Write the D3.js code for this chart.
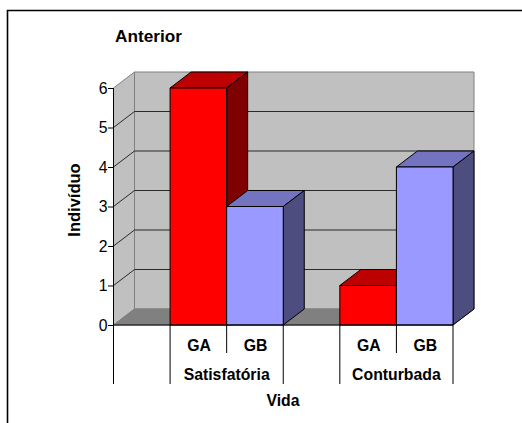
<!DOCTYPE html>
<html><head><meta charset="utf-8">
<script src="https://cdn.jsdelivr.net/npm/d3@7"></script>
<style>html,body{margin:0;padding:0;background:#fff;overflow:hidden}svg{display:block}text{font-family:"Liberation Sans",Arial,sans-serif;fill:#000}</style>
</head><body><script>
const categories = ["", "GA", "GB", "", "GA", "GB"];
const values = [null, 6, 3, null, 1, 4];
const groupLabels = ["Satisfatória", "Conturbada"];
const yTicks = [0, 1, 2, 3, 4, 5, 6];
const title = "Anterior", yTitle = "Indivíduo", xTitle = "Vida";
const faceColors = {GA: ["#ff0000", "#bd0000", "#7f0000"], GB: ["#9999ff", "#7373bf", "#4d4d80"]};
const W = 522, H = 423, DX = 21, DY = -16;
const svg = d3.select("body").append("svg").attr("width", W).attr("height", H);
const x = d3.scaleBand().domain(d3.range(categories.length)).range([113.5, 453]);
const y = d3.scaleLinear().domain([0, 6]).range([325, 88]);
const pts = a => a.map(p => p.join(",")).join(" ");

svg.append("path").attr("d", `M7.5,${H}V10.5H${W}`).attr("fill", "none").attr("stroke", "#000").attr("stroke-width", 1.6);

const x0 = x.range()[0], x1 = x.range()[1];
const yb = y(0), yt = y(6);
// walls
svg.append("polygon").attr("points", pts([[x0, yb], [x0 + DX, yb + DY], [x0 + DX, yt + DY], [x0, yt]])).attr("fill", "#c0c0c0").attr("stroke", "#808080");
svg.append("polygon").attr("points", pts([[x0 + DX, yb + DY], [x1 + DX, yb + DY], [x1 + DX, yt + DY], [x0 + DX, yt + DY]])).attr("fill", "#c0c0c0").attr("stroke", "#808080");
svg.append("polygon").attr("points", pts([[x0, yb], [x0 + DX, yb + DY], [x1 + DX, yb + DY], [x1, yb]])).attr("fill", "#808080").attr("stroke", "#808080");
// gridlines
svg.selectAll(".g").data(yTicks.slice(1, -1)).join("polyline").attr("fill", "none").attr("stroke", "#1a1a1a").attr("stroke-opacity", .9)
  .attr("points", d => pts([[x0, y(d)], [x0 + DX, y(d) + DY], [x1 + DX, y(d) + DY]]));
// bars
const bars = categories.map((c, i) => ({c, i, v: values[i]})).filter(d => d.v != null);
bars.forEach(d => {
  const l = x(d.i), r = l + x.bandwidth(), t = y(d.v), b = y(0), f = faceColors[d.c];
  const g = svg.append("g").attr("stroke", "#000").attr("stroke-linejoin", "round");
  g.append("polygon").attr("points", pts([[l, t], [l + DX, t + DY], [r + DX, t + DY], [r, t]])).attr("fill", f[1]);
  g.append("polygon").attr("points", pts([[r, t], [r + DX, t + DY], [r + DX, b + DY], [r, b]])).attr("fill", f[2]);
  g.append("rect").attr("x", l).attr("y", t).attr("width", r - l).attr("height", b - t).attr("fill", f[0]);
});
// y axis
const ax = svg.append("g").attr("transform", `translate(${x0 - 0.5},0)`)
  .call(d3.axisLeft(y).tickValues(yTicks).tickSize(5).tickFormat(d3.format("d")));
ax.select(".domain").attr("stroke", "#000").attr("d", `M0.5,${yt}V${yb}`);
ax.selectAll("text").attr("font-size", 15.8).attr("x", -5.5).attr("dy", "0.33em");
// x baseline and multi-level ticks
svg.append("line").attr("x1", x0).attr("x2", x1).attr("y1", yb).attr("y2", yb).attr("stroke", "#000");
const longEdges = [0, 1, 3, 4, 6];
const shortEdges = [2, 5];
const edge = i => i < categories.length ? x(i) : x1;
const labelFont = 15.8;
svg.selectAll(".lt").data(longEdges).join("line").attr("stroke", "#000")
  .attr("x1", d => edge(d)).attr("x2", d => edge(d)).attr("y1", yb).attr("y2", 384);
svg.selectAll(".st").data(shortEdges).join("line").attr("stroke", "#000")
  .attr("x1", d => edge(d)).attr("x2", d => edge(d)).attr("y1", yb).attr("y2", 353);
svg.selectAll(".cl").data(bars).join("text").attr("font-size", labelFont).attr("font-weight", "bold").attr("text-anchor", "middle")
  .attr("x", d => x(d.i) + x.bandwidth() / 2 + 0.7).attr("y", 350.5).text(d => d.c);
svg.selectAll(".gl").data(groupLabels).join("text").attr("font-size", labelFont).attr("font-weight", "bold").attr("text-anchor", "middle")
  .attr("x", (d, i) => x(i * 3 + 2)).attr("y", 380).text(d => d);
svg.append("text").attr("font-size", labelFont).attr("font-weight", "bold").attr("text-anchor", "middle").attr("x", 283).attr("y", 406).text(xTitle);
svg.append("text").attr("font-size", 17.2).attr("font-weight", "bold").attr("x", 115).attr("y", 41.5).text(title);
svg.append("text").attr("font-size", 16.5).attr("font-weight", "bold").attr("text-anchor", "middle").attr("transform", "translate(80,200) rotate(-90)").text(yTitle);
</script></body></html>
